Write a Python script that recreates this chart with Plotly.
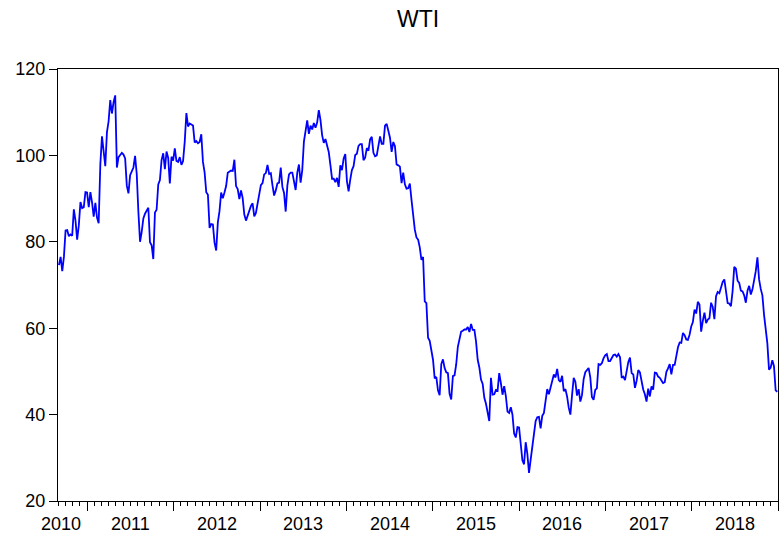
import pandas as pd
import plotly.graph_objects as go

# Weekly (Friday) WTI prices, USD/bbl
wti_2010 = [74.6, 76.5, 73.2, 76.5, 82.6, 82.7, 81.3, 81.7, 81.4, 87.5, 84.9, 80.5,
            83.8, 89.2, 87.8, 88.0, 91.5, 91.4]
wti_2011 = [88.0, 91.5, 89.1, 85.8, 89.0, 85.6, 84.3, 97.9, 104.4, 101.2, 97.5, 105.4,
            107.9, 112.8, 109.7, 112.3, 113.9, 97.2, 99.6, 100.1, 100.6, 100.2, 99.3, 93.0,
            91.2, 95.4, 96.2, 97.2, 99.9, 95.7, 86.9, 80.0, 82.3, 85.4, 86.5, 87.2,
            87.9, 79.9, 79.2, 76.0, 86.8, 87.4, 93.3, 94.3, 98.9, 100.5, 96.8, 100.9,
            99.4, 93.5, 99.7, 98.8]
wti_2012 = [101.6, 98.7, 98.5, 99.6, 97.8, 98.7, 103.2, 109.8, 106.7, 107.4, 107.1, 106.9,
            103.0, 103.3, 102.8, 103.1, 104.9, 98.5, 96.1, 91.5, 90.9, 83.2, 84.1, 84.0,
            79.8, 78.0, 84.5, 87.1, 91.4, 90.1, 91.4, 92.9, 96.0, 96.2, 96.5, 96.4,
            99.0, 92.9, 92.2, 89.9, 91.9, 90.1, 86.3, 84.9, 86.1, 86.9, 88.3, 88.9,
            85.9, 86.7, 88.7, 90.8]
wti_2013 = [93.1, 93.6, 95.6, 95.9, 97.8, 95.7, 95.9, 93.1, 90.7, 91.9, 93.5, 93.7,
            97.2, 92.7, 91.3, 87.0, 93.0, 95.6, 96.0, 96.0, 94.2, 92.0, 96.0, 97.9,
            93.7, 96.6, 103.2, 105.9, 108.1, 105.0, 106.9, 106.0, 107.5, 106.4, 107.6, 110.5,
            108.2, 104.7, 102.9, 103.8, 102.0, 100.8, 97.8, 94.6, 94.6, 93.8, 94.8, 92.7,
            97.7, 96.6, 99.3, 100.3]
wti_2014 = [94.0, 91.7, 94.4, 96.6, 97.5, 100.1, 100.4, 102.2, 102.6, 102.6, 98.9, 99.5,
            101.7, 101.1, 103.7, 104.3, 100.6, 99.8, 100.0, 102.0, 104.4, 102.7, 102.7, 106.9,
            107.3, 105.7, 104.1, 100.8, 103.1, 102.1, 97.9, 97.7, 97.4, 93.6, 96.0, 93.3,
            92.3, 92.4, 93.5, 89.7, 85.8, 82.8, 81.0, 80.5, 78.7, 75.8, 76.5, 66.2,
            65.8, 57.8, 57.1, 54.7]
wti_2015 = [52.7, 48.4, 48.7, 45.6, 44.5, 51.7, 52.8, 50.8, 49.8, 49.6, 44.8, 43.5,
            48.9, 49.1, 51.6, 55.7, 57.2, 59.2, 59.4, 59.7, 59.7, 60.3, 59.1, 61.0,
            59.6, 59.6, 56.9, 52.7, 50.9, 48.1, 47.1, 43.9, 42.5, 40.4, 38.5, 48.5,
            44.6, 44.7, 45.7, 45.5, 49.6, 47.3, 44.6, 46.6, 44.3, 40.7, 40.4, 41.7,
            40.0, 35.6, 34.7, 37.1]
wti_2016 = [37.0, 33.2, 29.4, 28.5, 33.6, 30.9, 26.5, 29.6, 32.8, 35.9, 38.5, 39.4,
            39.5, 36.8, 39.7, 40.4, 43.7, 45.9, 44.7, 46.2, 48.4, 49.3, 48.6, 50.6,
            48.0, 47.6, 49.0, 45.4, 45.9, 44.2, 41.6, 40.0, 44.5, 48.5, 47.6, 44.4,
            45.9, 43.0, 44.5, 48.2, 49.8, 50.4, 50.8, 48.7, 44.1, 43.4, 45.7, 46.1,
            51.7, 51.5, 51.9, 53.0, 53.7]
wti_2017 = [54.0, 52.4, 52.4, 53.2, 53.8, 53.9, 53.4, 54.0, 53.3, 48.5, 48.8, 48.0,
            50.6, 52.2, 53.2, 49.6, 49.3, 46.2, 47.8, 50.3, 49.8, 47.7, 45.8, 44.7,
            43.0, 46.0, 44.2, 46.5, 45.8, 49.7, 49.6, 48.8, 48.5, 47.9, 47.3, 47.5,
            49.9, 50.7, 51.7, 49.3, 51.5, 51.5, 53.9, 55.6, 56.7, 56.6, 58.9, 58.4,
            57.4, 57.3, 58.5, 60.4]
wti_2018 = [61.4, 64.3, 63.4, 66.1, 65.5, 59.2, 61.7, 63.6, 61.2, 62.0, 62.3, 65.9,
            64.9, 62.1, 67.4, 68.4, 68.1, 69.7, 70.7, 71.3, 67.9, 65.8, 65.7, 65.1,
            68.6, 74.2, 73.8, 71.0, 70.5, 68.7, 68.5, 67.6, 65.9, 68.7, 69.8, 67.8,
            69.0, 70.8, 73.2, 76.4, 71.3, 69.1, 67.6, 63.1, 60.2, 56.5, 50.4, 50.9,
            52.6, 51.2, 45.6, 45.3]

first_fridays = ["2010-09-03", "2011-01-07", "2012-01-06", "2013-01-04", "2014-01-03",
                 "2015-01-02", "2016-01-01", "2017-01-06", "2018-01-05"]
year_series = [wti_2010, wti_2011, wti_2012, wti_2013, wti_2014,
               wti_2015, wti_2016, wti_2017, wti_2018]
year_labels = ["2010", "2011", "2012", "2013", "2014", "2015", "2016", "2017", "2018"]
label_dates = ["2010-09-11", "2011-07-02", "2012-07-02", "2013-07-02", "2014-07-02",
               "2015-07-02", "2016-07-02", "2017-07-02", "2018-07-02"]
y_ticks = [20, 40, 60, 80, 100, 120]

dates, values = [], []
for start, vals in zip(first_fridays, year_series):
    dates += list(pd.date_range(start, periods=len(vals), freq="W-FRI"))
    values += vals

fig = go.Figure()
fig.add_trace(go.Scatter(x=dates, y=values, mode="lines",
                         line=dict(color="#0000FF", width=1.8), showlegend=False))

font_family = "Liberation Sans, Arial, sans-serif"
major_ticks = ["2011-01-01", "2012-01-01", "2013-01-01", "2014-01-01", "2015-01-01",
               "2016-01-01", "2017-01-01", "2018-01-01", "2018-12-31"]

fig.update_layout(
    width=779, height=540,
    margin=dict(l=58, r=1, t=69, b=39),
    paper_bgcolor="white", plot_bgcolor="white",
    font=dict(family=font_family, color="black", size=18),
    title=dict(text="WTI", xref="paper", x=0.5, xanchor="center",
               yref="container", y=1 - 19 / 540, yanchor="middle",
               font=dict(size=23, family=font_family, color="black")),
    xaxis=dict(type="date", range=["2010-08-30", "2018-12-31"], automargin=False,
               showgrid=False, zeroline=False, showline=True, mirror=True,
               linecolor="black", linewidth=1,
               tickmode="array", tickvals=major_ticks, showticklabels=False,
               ticks="outside", ticklen=9, tickcolor="black", tickwidth=1,
               minor=dict(tickmode="linear", tick0="2010-09-01", dtick="M1",
                          ticks="outside", ticklen=4, tickcolor="black", tickwidth=1,
                          showgrid=False)),
    yaxis=dict(range=[20, 120], tickmode="array", tickvals=y_ticks, automargin=False,
               showgrid=False, zeroline=False, showline=True, mirror=True,
               linecolor="black", linewidth=1,
               ticks="outside", ticklen=8, tickcolor="black", tickwidth=1,
               tickfont=dict(size=18, family=font_family, color="black")),
)

for d, lab in zip(label_dates, year_labels):
    fig.add_annotation(x=d, y=-23 / 432, xref="x", yref="paper", text=lab,
                       showarrow=False, xanchor="center", yanchor="middle",
                       font=dict(size=18, family=font_family, color="black"))

fig.write_html("out.html", config={"displayModeBar": False})

# remove the browser's default page margin so the figure sits at the window origin
with open("out.html", "r", encoding="utf-8") as f:
    html = f.read()
html = html.replace("<head>", "<head><style>html,body{margin:0;padding:0;}</style>", 1)
with open("out.html", "w", encoding="utf-8") as f:
    f.write(html)
